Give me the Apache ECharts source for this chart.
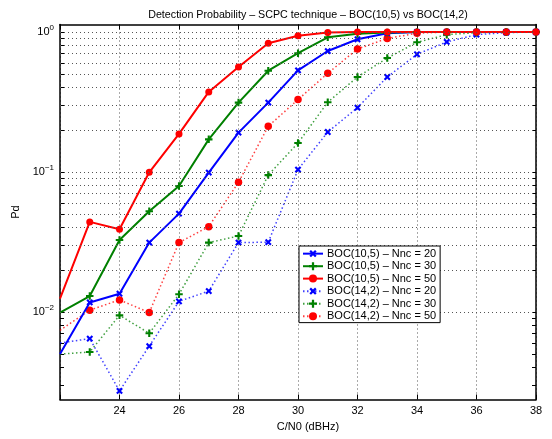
<!DOCTYPE html>
<html><head><meta charset="utf-8">
<script src="https://cdn.jsdelivr.net/npm/echarts@6/dist/echarts.min.js"></script>
<style>html,body{margin:0;padding:0;background:#fff}#c{width:552px;height:439px}</style>
</head><body><div id="c"></div>
<script>
const cn0 = [22,23,24,25,26,27,28,29,30,31,32,33,34,35,36,37,38];
const boc105_20 = [0.005,0.0117,0.0135,0.0313,0.0504,0.099,0.191,0.313,0.532,0.731,0.887,0.98,1,1,1,1,1];
const boc105_30 = [0.0099,0.013,0.0327,0.0524,0.0794,0.171,0.313,0.529,0.705,0.916,0.97,0.99,1,1,1,1,1];
const boc105_50 = [0.01245,0.044,0.039,0.0995,0.187,0.373,0.562,0.83,0.94,0.99,1,1,1,1,1,1,1];
const boc142_20 = [0.006,0.00645,0.00273,0.0057,0.0119,0.0141,0.0313,0.0315,0.104,0.193,0.288,0.477,0.693,0.849,0.957,0.99,1];
const boc142_30 = [0.005,0.00518,0.00946,0.00705,0.01337,0.0313,0.0349,0.095,0.161,0.315,0.477,0.652,0.844,0.957,0.99,1,1];
const boc142_50 = [0.0074,0.0103,0.0122,0.0099,0.0313,0.0407,0.0844,0.212,0.329,0.507,0.756,0.90,0.98,1,1,1,1];
const seriesNames = ['BOC(10,5) – Nnc = 20','BOC(10,5) – Nnc = 30','BOC(10,5) – Nnc = 50','BOC(14,2) – Nnc = 20','BOC(14,2) – Nnc = 30','BOC(14,2) – Nnc = 50'];
const xTicks = [24,26,28,30,32,34,36,38];
const yMajor = [0.01,0.1,1];
const yMinor = [0.003,0.004,0.005,0.006,0.007,0.008,0.009,0.02,0.03,0.04,0.05,0.06,0.07,0.08,0.09,0.2,0.3,0.4,0.5,0.6,0.7,0.8,0.9];
const yMin = 0.00237, yMax = 1.131;

const FONT = '"Liberation Sans", Arial, Helvetica, sans-serif';
const PLUS = 'path://M3.6,0H6.4V3.6H10V6.4H6.4V10H3.6V6.4H0V3.6H3.6Z';
const BLUE = '#0000ff', GREEN = '#008000', RED = '#ff0000';

// first point sits on the left axis edge; its marker is not drawn (clipped in the original)
function pair(arr){ return cn0.map((x,i)=> i===0 ? {value:[x,arr[i]], symbol:'none'} : [x,arr[i]]); }
function mk(name, data, color, symbol, rot, size, dotted){
  return {
    name, type:'line', data: pair(data), symbol, symbolSize:size, symbolRotate:rot,
    showAllSymbol:true, z: dotted?3:4, clip:true,
    itemStyle:{color, opacity:1},
    lineStyle:{color, width: dotted?1.5:2, type: dotted?[1.5,2.5]:'solid', opacity: dotted?0.75:1},
    emphasis:{disabled:true}, animation:false
  };
}
const gridLines = yMinor.concat(yMajor).map(v=>({yAxis:v}));

const chart = echarts.init(document.getElementById('c'), null, {renderer:'canvas'});
chart.setOption({
  backgroundColor:'#fff',
  animation:false,
  textStyle:{fontFamily:FONT},
  title:{text:'Detection Probability – SCPC technique – BOC(10,5) vs BOC(14,2)', left:303, top:5, textAlign:'center',
    textStyle:{fontSize:10.7, fontWeight:'normal', color:'#000', fontFamily:FONT}},
  grid:{left:60, right:16, top:24.5, bottom:39.5, containLabel:false},
  legend:{
    orient:'vertical', left:299, top:246, padding:[2,4,1,3], itemGap:1.4, itemWidth:20, itemHeight:10, z:20,
    backgroundColor:'#fff', borderColor:'#000', borderWidth:1, borderRadius:0,
    textStyle:{fontSize:11, lineHeight:10, color:'#000', fontFamily:FONT, padding:[0,0,0,-1]},
    data: seriesNames, selectedMode:false
  },
  xAxis:[{
    type:'value', min:22, max:38, interval:2, name:'C/N0 (dBHz)', nameLocation:'middle', nameGap:22,
    nameTextStyle:{fontSize:11, color:'#000', fontFamily:FONT, padding:[0,0,0,20]},
    axisLine:{show:true, onZero:false, lineStyle:{color:'#000', width:1.5}},
    axisTick:{show:true, inside:true, length:5, lineStyle:{color:'#000'}},
    axisLabel:{fontSize:11, color:'#000', margin:6, formatter:v=> xTicks.indexOf(v)>=0 ? String(v) : ''},
    splitLine:{show:true, lineStyle:{color:'#555', type:[1,3], width:1}}
  },{
    type:'value', position:'top', min:22, max:38, interval:2,
    axisLine:{show:true, onZero:false, lineStyle:{color:'#000', width:1.5}},
    axisTick:{show:true, inside:true, length:5, lineStyle:{color:'#000'}},
    axisLabel:{show:false}, splitLine:{show:false}
  }],
  yAxis:[{
    type:'log', logBase:10, min:yMin, max:yMax, name:'Pd', nameLocation:'middle', nameGap:27, nameRotate:90,
    nameTextStyle:{fontSize:11, color:'#000', fontFamily:FONT},
    axisLine:{show:true, onZero:false, lineStyle:{color:'#000', width:1.5}},
    axisTick:{show:true, inside:true, length:4, customValues: yMinor.concat(yMajor), lineStyle:{color:'#000'}},
    axisLabel:{color:'#000', fontSize:11, margin:6, showMinLabel:false, showMaxLabel:false,
      formatter:function(v){ const l=Math.log10(v); const e=Math.round(l); if(Math.abs(l-e)>1e-6) return ''; return '10{sup|'+(e<0?'−'+(-e):e)+'}'; },
      rich:{sup:{fontSize:8, verticalAlign:'bottom', padding:[0,0,8,0], color:'#000', fontFamily:FONT}}},
    splitLine:{show:false}
  },{
    type:'log', logBase:10, min:yMin, max:yMax, position:'right',
    axisLine:{show:true, onZero:false, lineStyle:{color:'#000', width:1.5}},
    axisTick:{show:true, inside:true, length:4, customValues: yMinor.concat(yMajor), lineStyle:{color:'#000'}},
    axisLabel:{show:false}, splitLine:{show:false}
  }],
  series:[
    {type:'line', name:'_grid', data:[], silent:true, z:1,
      markLine:{silent:true, symbol:['none','none'], label:{show:false}, animation:false,
        lineStyle:{color:'#555', type:[1,3], width:1}, emphasis:{disabled:true}, data:gridLines}},
    mk(seriesNames[0], boc105_20, BLUE, PLUS, 45, 7.5, false),
    mk(seriesNames[1], boc105_30, GREEN, PLUS, 0, 7.5, false),
    mk(seriesNames[2], boc105_50, RED, 'circle', 0, 7, false),
    mk(seriesNames[3], boc142_20, BLUE, PLUS, 45, 7.5, true),
    mk(seriesNames[4], boc142_30, GREEN, PLUS, 0, 7.5, true),
    mk(seriesNames[5], boc142_50, RED, 'circle', 0, 7.5, true)
  ]
});
</script></body></html>
